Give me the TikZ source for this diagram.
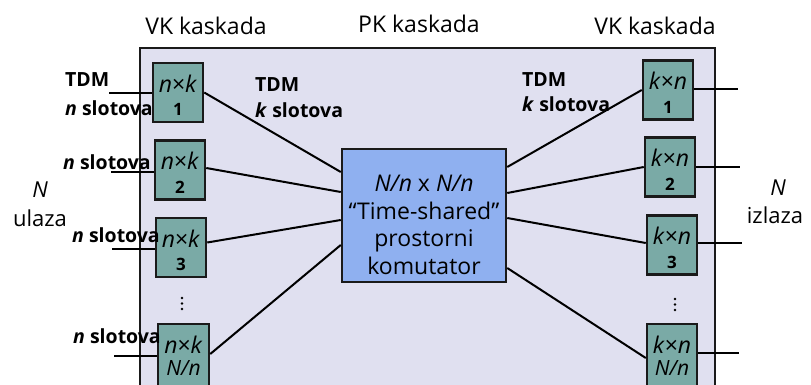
\documentclass[tikz,border=0pt]{standalone}
\usepackage{fontspec}
\setmainfont{Open Sans}
\definecolor{bglav}{HTML}{E0E0F0}
\definecolor{boxteal}{HTML}{7AAAA6}
\definecolor{cblue}{HTML}{8FB0F0}
\definecolor{edge}{HTML}{1A1A1A}
\begin{document}
\begin{tikzpicture}[x=1pt,y=-1pt,
  frame/.style={draw=edge,line width=2.5pt,fill=bglav},
  vkbox/.style={draw=edge,line width=2.5pt,fill=boxteal,minimum width=50pt,minimum height=59pt,inner sep=0pt},
  pkbox/.style={draw=edge,line width=2.5pt,fill=cblue,minimum width=164pt,minimum height=133pt,inner sep=0pt},
  link/.style={draw=black,line width=2pt},
  boxtxt/.style={font=\fontsize{23}{26}\selectfont,inner sep=0pt},
  boxnum/.style={font=\fontsize{17}{19}\selectfont\bfseries,inner sep=0pt},
  boxnn/.style={font=\fontsize{21}{24}\selectfont\itshape,inner sep=0pt},
  lbl/.style={font=\fontsize{19.5}{22}\selectfont\bfseries,inner sep=0pt,anchor=west},
  toplbl/.style={font=\fontsize{23}{26}\selectfont,inner sep=0pt,anchor=base},
  sidelbl/.style={font=\fontsize{22}{26}\selectfont,inner sep=0pt},
  ctext/.style={font=\fontsize{23}{27.7}\selectfont,inner sep=0pt,align=center},
  dot/.style={fill=black}]
\useasboundingbox (0,0) rectangle (811,385);
\clip (0,0) rectangle (811,385);
% frame
\path[frame] (140,48) rectangle (715,400);
% top labels
\node[toplbl] (t1) at (206,35) {VK kaskada};
\node[toplbl] (t2) at (419,33) {PK kaskada};
\node[toplbl] (t3) at (655,35) {VK kaskada};
% side labels
\node[sidelbl] (nin) at (40,190) {\itshape N};
\node[sidelbl] (uin) at (40,218) {ulaza};
\node[sidelbl] (nout) at (778,188) {\itshape N};
\node[sidelbl] (uout) at (775,215) {izlaza};
% boxes
\node[vkbox] (L1) at (178,92.5) {};
\node[vkbox] (L2) at (180,170) {};
\node[vkbox] (L3) at (181,247.5) {};
\node[vkbox,minimum height=66pt,minimum width=51pt] (L4) at (183.5,357) {};
\node[vkbox] (R1) at (668,90) {};
\node[vkbox] (R2) at (670,167) {};
\node[vkbox] (R3) at (672,245) {};
\node[vkbox,minimum height=66pt] (R4) at (672,357) {};
\node[pkbox] (C) at (424,215.5) {};
% box texts
\foreach \b/\n in {L1/1,L2/2,L3/3}{
  \node[boxtxt] (\b t) at ([yshift=-22pt]\b.north) {\textit{n}×\textit{k}};
  \node[boxnum] (\b n) at ([yshift=-48pt]\b.north) {\n};
}
\node[boxtxt] (L4t) at ([yshift=-22pt]L4.north) {\textit{n}×\textit{k}};
\node[boxnn] (L4n) at ([yshift=-45pt]L4.north) {N/n};
\foreach \b/\n in {R1/1,R2/2,R3/3}{
  \node[boxtxt] (\b t) at ([yshift=-22pt]\b.north) {\textit{k}×\textit{n}};
  \node[boxnum] (\b n) at ([yshift=-48pt]\b.north) {\n};
}
\node[boxtxt] (R4t) at ([yshift=-22pt]R4.north) {\textit{k}×\textit{n}};
\node[boxnn] (R4n) at ([yshift=-45pt]R4.north) {N/n};
\node[ctext] (Ct) at (424,225) {\textit{N/n} x \textit{N/n}\\“Time-shared”\\prostorni\\komutator};
% vertical ellipses
\foreach \y in {298,303.5,309}{
  \fill[dot] (182,\y) circle (1.3);
  \fill[dot] (675,\y+1) circle (1.3);
}
% connectors to the space switch
\draw[link] (L1.east) -- ([yshift=43.5pt]C.west);
\draw[link] ([yshift=2pt]L2.east) -- ([yshift=23.5pt]C.west);
\draw[link] ([yshift=5pt]L3.east) -- ([yshift=-4.5pt]C.west);
\draw[link] ([yshift=3pt]L4.east) -- ([yshift=-29.5pt]C.west);
\draw[link] ([yshift=48.5pt]C.east) -- (R1.west);
\draw[link] ([yshift=22.5pt]C.east) -- (R2.west);
\draw[link] ([yshift=-2.5pt]C.east) -- ([yshift=2pt]R3.west);
\draw[link] ([yshift=-52.5pt]C.east) -- ([yshift=-1pt]R4.west);
% inputs and outputs
\draw[link] ([yshift=-0.5pt]L1.west) -- ++(-43,0) coordinate (i1);
\draw[link] ([yshift=-2pt]L2.west) -- ++(-43,0) coordinate (i2);
\draw[link] ([yshift=-1.5pt]L3.west) -- ++(-43,0) coordinate (i3);
\draw[link] ([yshift=1pt]L4.west) -- ++(-43,0) coordinate (i4);
\draw[link] ([yshift=1pt]R1.east) -- ++(44,0) coordinate (o1);
\draw[link] (R2.east) -- ++(44,0) coordinate (o2);
\draw[link] ([yshift=2pt]R3.east) -- ++(44,0) coordinate (o3);
\draw[link] ([yshift=4pt]R4.east) -- ++(41,0) coordinate (o4);
% slot labels
\node[lbl] (a1) at (65,80) {TDM};
\node[lbl] (a2) at (65,108) {\textit{n} slotova};
\node[lbl] (a3) at (63,162) {\textit{n} slotova};
\node[lbl] (a4) at (72,235) {\textit{n} slotova};
\node[lbl] (a5) at (73,336) {\textit{n} slotova};
\node[lbl] (b1) at (255,85) {TDM};
\node[lbl] (b2) at (255,110) {\textit{k} slotova};
\node[lbl] (c1) at (522,80) {TDM};
\node[lbl] (c2) at (522,104) {\textit{k} slotova};
\end{tikzpicture}
\end{document}
